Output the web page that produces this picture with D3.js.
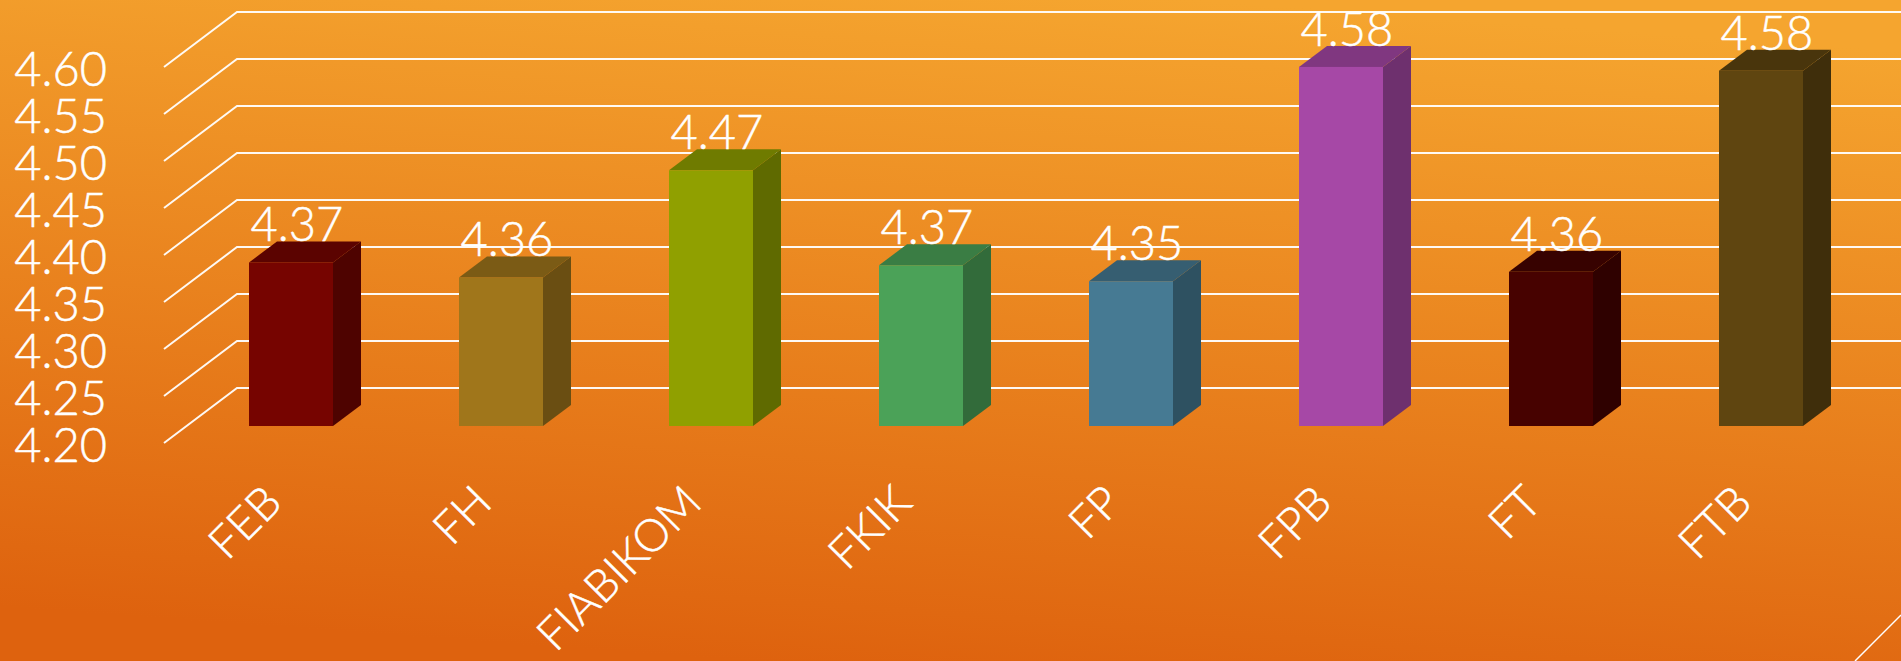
<!DOCTYPE html>
<html>
<head>
<meta charset="utf-8">
<script src="https://cdn.jsdelivr.net/npm/d3@7"></script>
<style>
html, body { margin: 0; padding: 0; overflow: hidden; }
svg { display: block; }
text { font-family: Lato, sans-serif; font-weight: 300; fill: #fff; stroke: #fff; stroke-width: 0.5px; }
</style>
</head>
<body>
<div id="chart"></div>
<script>
// data
let categories = ['FEB', 'FH', 'FIABIKOM', 'FKIK', 'FP', 'FPB', 'FT', 'FTB'];
let values = [4.374, 4.358, 4.472, 4.371, 4.354, 4.582, 4.364, 4.578];
let yTicks = [4.20, 4.25, 4.30, 4.35, 4.40, 4.45, 4.50, 4.55, 4.60];
let barColors = ['#760400', '#a0761b', '#90a000', '#4ba258', '#467a93', '#a648a6', '#470200', '#5f4510'];

let width = 1901;
let height = 661;

// the fake 3d: how far the wall and the bars are pushed back
let wallDx = 73, wallDy = 55;
let barDx = 28, barDy = 21;
let frontOffset = 38; // bar fronts sit this far below the back wall

let svg = d3.select('#chart')
	.append('svg')
	.attr('width', width)
	.attr('height', height);

let grad = svg.append('defs').append('linearGradient')
	.attr('id', 'bg')
	.attr('gradientUnits', 'userSpaceOnUse')
	.attr('x1', 990).attr('y1', -15)
	.attr('x2', 940).attr('y2', 675);
grad.append('stop').attr('offset', 0).attr('stop-color', '#f5a52f');
grad.append('stop').attr('offset', 1).attr('stop-color', '#de620e');

svg.append('rect')
	.attr('width', width)
	.attr('height', height)
	.attr('fill', 'url(#bg)');

// y runs along the back wall
let y = d3.scaleLinear()
	.domain([4.2, 4.6])
	.range([388, 12]);

let x = d3.scaleBand()
	.domain(categories)
	.range([186, 1866])
	.paddingInner(0.6)
	.paddingOuter(0.3);

let wallX = 164;

let line = d3.line();

svg.append('g')
	.selectAll('path')
	.data(yTicks)
	.enter()
	.append('path')
	.attr('d', function(d){
		return line([[wallX, y(d) + wallDy], [wallX + wallDx, y(d)], [width + 5, y(d)]]);
	})
	.attr('fill', 'none')
	.attr('stroke', '#fff')
	.attr('stroke-opacity', 0.95)
	.attr('stroke-width', 2);

// slide decoration, bottom right corner
svg.append('path')
	.attr('d', line([[1855, 661], [1901, 615]]))
	.attr('stroke', '#fff')
	.attr('stroke-width', 1.5);

function shade(c, k){
	let r = d3.rgb(c);
	return d3.rgb(r.r * k, r.g * k, r.b * k).formatHex();
}

let bars = svg.append('g')
	.selectAll('g')
	.data(categories)
	.enter()
	.append('g')
	.attr('class', 'bar');

// side face
bars.append('path')
	.attr('d', function(d, i){
		let r = x(d) + x.bandwidth();
		let t = y(values[i]) + frontOffset;
		let b = y(4.2) + frontOffset;
		return line([[r, t], [r + barDx, t - barDy], [r + barDx, b - barDy], [r, b]]) + 'Z';
	})
	.attr('fill', function(d, i){ return shade(barColors[i], 0.66); });

// top face
bars.append('path')
	.attr('d', function(d, i){
		let l = x(d);
		let r = l + x.bandwidth();
		let t = y(values[i]) + frontOffset;
		return line([[l, t], [l + barDx, t - barDy], [r + barDx, t - barDy], [r, t]]) + 'Z';
	})
	.attr('fill', function(d, i){ return shade(barColors[i], 0.77); });

// front face
bars.append('rect')
	.attr('x', function(d){ return x(d); })
	.attr('width', x.bandwidth())
	.attr('y', function(d, i){ return y(values[i]) + frontOffset; })
	.attr('height', function(d, i){ return y(4.2) - y(values[i]); })
	.attr('fill', function(d, i){ return barColors[i]; });

// value labels stand on the back edge of the top face
bars.append('text')
	.attr('text-anchor', 'middle')
	.attr('x', function(d){ return x(d) + x.bandwidth()/2 + 6; })
	.attr('y', function(d, i){ return y(values[i]) + frontOffset - barDy; })
	.attr('font-size', 47)
	.text(function(d, i){ return values[i].toFixed(2); });

let yAxis = svg.append('g')
	.attr('transform', 'translate(107,0)')
	.call(d3.axisLeft(y).tickValues(yTicks).tickFormat(d3.format('.2f')).tickSize(0).tickPadding(0));
yAxis.select('.domain').remove();
yAxis.selectAll('text')
	.attr('dy', 0)
	.attr('y', 73)
	.attr('font-size', 47)
	.attr('font-family', 'Lato, sans-serif')
	.style('fill', '#fff');

let xAxis = svg.append('g')
	.attr('transform', 'translate(0,505)')
	.call(d3.axisBottom(x).tickSize(0).tickPadding(0));
xAxis.select('.domain').remove();
xAxis.selectAll('text')
	.attr('text-anchor', 'end')
	.attr('dy', 0)
	.attr('y', 0)
	.attr('transform', 'translate(-7,0) rotate(-45)')
	.attr('font-size', 45)
	.attr('font-family', 'Lato, sans-serif')
	.style('fill', '#fff');
</script>
</body>
</html>
